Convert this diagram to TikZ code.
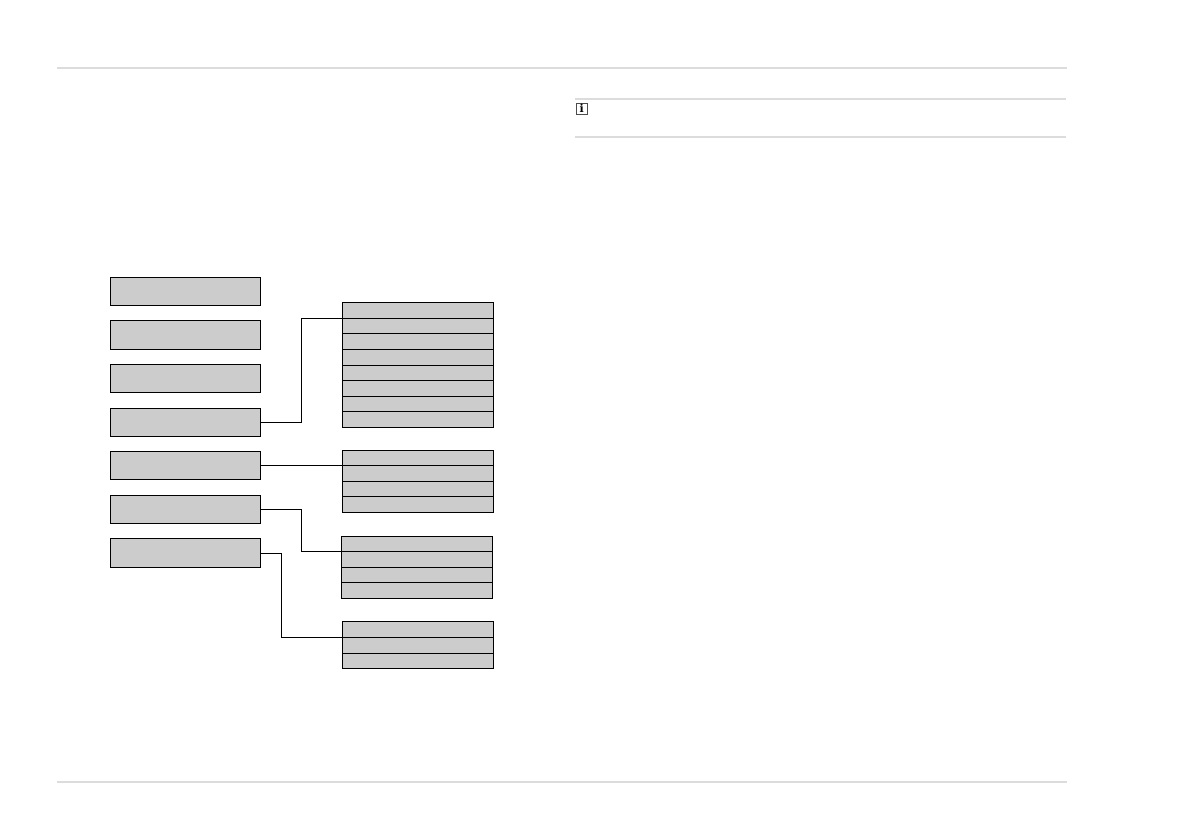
\documentclass[tikz,border=0pt]{standalone}
\usepackage{fontspec}
\setmainfont{Liberation Sans}
\newfontfamily\iconfont{DejaVu Serif}[BoldFont={DejaVu Serif Bold}]
\definecolor{boxgray}{HTML}{CCCCCC}
\definecolor{rulegray}{HTML}{DCDCDC}
\tikzset{
  menubox/.style={draw=black,fill=boxgray,line width=1.1pt,inner sep=0pt,outer sep=0pt,anchor=north west,minimum width=150pt},
  subbox/.style={menubox,minimum width=151pt},
  conn/.style={draw=black,line width=1.1pt,line join=miter},
  pagerule/.style={draw=rulegray,line width=1.3pt},
}
\newcommand{\mrow}[3]{\node[menubox,minimum height=#3 pt] (#1) at #2 {};}
\newcommand{\srow}[3]{\node[subbox,minimum height=#3 pt] (#1) at #2 {};}
\begin{document}
\begin{tikzpicture}[x=1pt,y=-1pt]
\useasboundingbox (0,0) rectangle (1191,839);
% page rules
\coordinate (ha) at (57,68); \coordinate (hb) at (1067,68);
\coordinate (fa) at (57,782); \coordinate (fb) at (1067,782);
\coordinate (na) at (575,99); \coordinate (nb) at (1066,99);
\coordinate (ma) at (575,137); \coordinate (mb) at (1066,137);
\draw[pagerule] (ha) -- (hb);
\draw[pagerule] (fa) -- (fb);
\draw[pagerule] (na) -- (nb);
\draw[pagerule] (ma) -- (mb);
% info icon
\node[draw=black!70,line width=0.9pt,fill=white,minimum width=11.5pt,minimum height=11.5pt,inner sep=0pt,anchor=north west,font=\iconfont\bfseries\fontsize{11}{11}\selectfont] (info) at (575.5,102.5) {i};
% left column
\mrow{b1}{(110.5,277.5)}{28}
\mrow{b2}{(110.5,320.5)}{29}
\mrow{b3}{(110.5,364.5)}{28}
\mrow{b4}{(110.5,408.5)}{28}
\mrow{b5}{(110.5,451.5)}{28}
\mrow{b6}{(110.5,495.5)}{28}
\mrow{b7}{(110.5,538.5)}{29}
% group 1
\srow{a1}{(342.5,302.5)}{16}
\srow{a2}{(342.5,318.5)}{15}
\srow{a3}{(342.5,333.5)}{16}
\srow{a4}{(342.5,349.5)}{16}
\srow{a5}{(342.5,365.5)}{15}
\srow{a6}{(342.5,380.5)}{16}
\srow{a7}{(342.5,396.5)}{15}
\srow{a8}{(342.5,411.5)}{16}
% group 2
\srow{c1}{(342.5,450.5)}{15}
\srow{c2}{(342.5,465.5)}{16}
\srow{c3}{(342.5,481.5)}{15}
\srow{c4}{(342.5,496.5)}{16}
% group 3
\srow{d1}{(341.5,536.5)}{15}
\srow{d2}{(341.5,551.5)}{16}
\srow{d3}{(341.5,567.5)}{15}
\srow{d4}{(341.5,582.5)}{16}
% group 4
\srow{e1}{(342.5,621.5)}{16}
\srow{e2}{(342.5,637.5)}{16}
\srow{e3}{(342.5,653.5)}{15}
% connectors
\coordinate (k4) at (301.5,0);
\coordinate (k7) at (281.5,0);
\coordinate (s7) at ([yshift=-0.5pt]b7.east);
\draw[conn] (b4.east) -- (b4.east -| k4) -- (a1.south west -| k4) -- (a1.south west);
\draw[conn] (b5.east) -- (c1.south west);
\draw[conn] (b6.east) -- (b6.east -| k4) -- (d1.south west -| k4) -- (d1.south west);
\draw[conn] (s7) -- (s7 -| k7) -- (e1.south west -| k7) -- (e1.south west);
\end{tikzpicture}
\end{document}
